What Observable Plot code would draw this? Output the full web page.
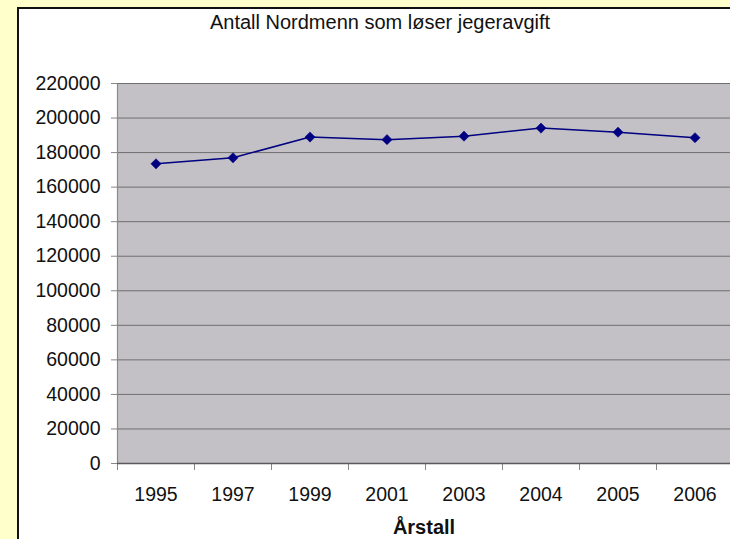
<!DOCTYPE html>
<html>
<head>
<meta charset="utf-8">
<script src="https://cdn.jsdelivr.net/npm/d3@7"></script>
<script src="https://cdn.jsdelivr.net/npm/@observablehq/plot@0.6"></script>
<style>
  html, body { margin: 0; padding: 0; width: 730px; height: 539px; overflow: hidden; background: #ffffcc; }
  #frame { position: absolute; left: 17px; top: 7px; width: 760px; height: 600px; background: #ffffff;
           border-left: 2px solid #111; border-top: 2px solid #111; }
  #title { position: absolute; left: 17px; top: 10px; width: 726px; text-align: center;
           font-family: "Liberation Sans", Arial, sans-serif; font-size: 20px; line-height: 24px; color: #111; }
  #chart { position: absolute; left: 0; top: 40px; width: 760px; }
  #xlabel { position: absolute; left: 324px; top: 517px; width: 200px; text-align: center;
            font-family: "Liberation Sans", Arial, sans-serif; font-size: 20px; font-weight: bold; line-height: 20px; color: #111; }
</style>
</head>
<body>
<div id="frame"></div>
<div id="title"></div>
<div id="chart"></div>
<div id="xlabel"></div>
<script>
const titleText = "Antall Nordmenn som løser jegeravgift";
const xTitle = "Årstall";
const years = ["1995", "1997", "1999", "2001", "2003", "2004", "2005", "2006"];
const hunters = [173500, 177000, 189000, 187500, 189500, 194200, 191800, 188600];
const yTicks = [0, 20000, 40000, 60000, 80000, 100000, 120000, 140000, 160000, 180000, 200000, 220000];

document.getElementById("title").textContent = titleText;
document.getElementById("xlabel").textContent = xTitle;

const data = years.map((year, i) => ({i, year, value: hunters[i]}));
const slotEdges = d3.range(0, years.length + 1);
const slotCenters = years.map((_, i) => i + 0.5);

const font = "Liberation Sans, Arial, sans-serif";

const chart = Plot.plot({
  width: 740,
  height: 475,
  marginLeft: 117,
  marginRight: 7,
  marginTop: 43,
  marginBottom: 52,
  style: {background: "transparent", maxWidth: "none", fontFamily: font, fontSize: "19.5px", color: "#111", overflow: "visible"},
  x: {type: "linear", domain: [0, years.length], axis: null},
  y: {domain: [0, 220000], axis: null},
  marks: [
    Plot.frame({fill: "#c3c1c6", stroke: null}),
    Plot.ruleY(yTicks.slice(1), {stroke: "#6f6f6f", strokeWidth: 1}),
    Plot.axisY(yTicks, {anchor: "left", label: null, tickSize: 6, tickPadding: 11, stroke: "#888", tickFormat: d => String(d), fontSize: 19.5, fill: "#111"}),
    Plot.ruleX([0], {stroke: "#8a8a8a", strokeWidth: 1.2}),
    Plot.axisX(slotEdges, {anchor: "bottom", tickSize: 7, tickFormat: () => "", stroke: "#888", label: null}),
    Plot.axisX(slotCenters, {anchor: "bottom", tickSize: 0, tickPadding: 24, tickFormat: v => years[Math.round(v - 0.5)], fontSize: 19.5, fill: "#111", label: null}),
    Plot.ruleY([0], {stroke: "#5a5a5a", strokeWidth: 1.5}),
    Plot.line(data, {x: d => d.i + 0.5, y: "value", stroke: "#000080", strokeWidth: 1.5}),
    Plot.dot(data, {x: d => d.i + 0.5, y: "value", symbol: "diamond2", r: 4.6, fill: "#000080", stroke: "#000080", strokeWidth: 0.5})
  ]
});
document.getElementById("chart").appendChild(chart);
</script>
</body>
</html>
